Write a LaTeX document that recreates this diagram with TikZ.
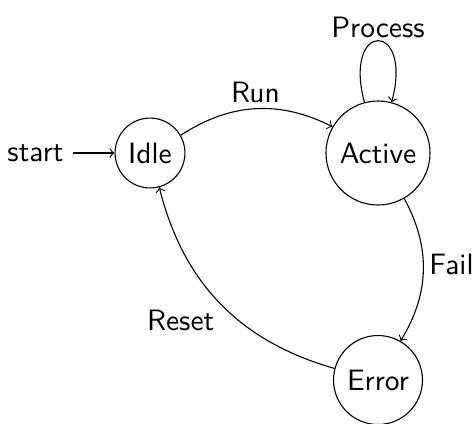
\documentclass[tikz,border=0pt]{standalone}
\usepackage{fontspec}
\usetikzlibrary{automata,arrows}
\begin{document}
\begin{tikzpicture}[x=0.3663pt,y=-0.3663pt,
  font=\sffamily\fontsize{10.8pt}{13pt}\selectfont,
  st/.style={circle,draw,inner sep=0pt},
  lbl/.style={inner sep=2pt},
  >=to]
\useasboundingbox (0,0) rectangle (476,423);
\node[st,minimum size=25.6pt] (idle) at (150,153) {Idle};
\node[st,minimum size=38.1pt] (active) at (378,153) {Active};
\node[st,minimum size=32.6pt] (error) at (378,380) {Error};
\node (start) at (35.5,153) {start};
\draw[->] (start) -- (idle);
\draw[->] (idle) to[bend left=30] node[above,lbl] {Run} (active);
\draw[->] (active) to[loop above,looseness=8] node[above,inner sep=1pt] {Process} (active);
\draw[->] (active) to[bend left=30] node[right,lbl,pos=0.46] {Fail} (error);
\draw[->] (error) to[bend left=30] node[below left,lbl] {Reset} (idle);
\end{tikzpicture}
\end{document}
